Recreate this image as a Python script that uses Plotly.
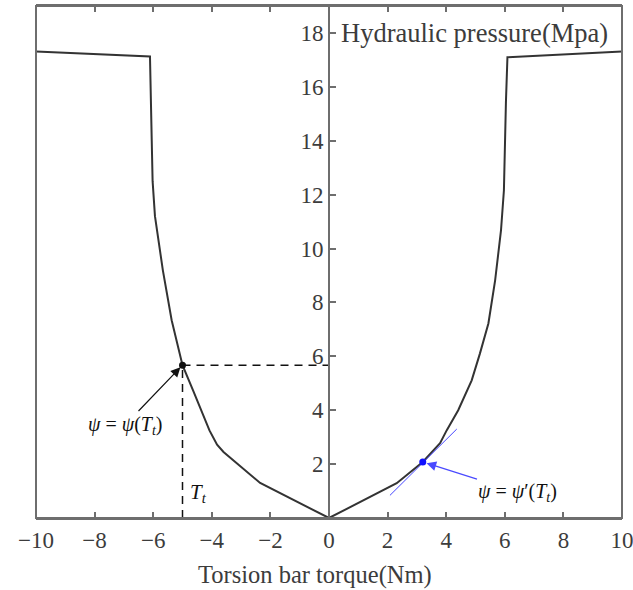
import plotly.graph_objects as go

# Hydraulic pressure vs torsion bar torque characteristic
torque = [-10.0, -6.11, -6.05, -6.02, -5.94, -5.67, -5.37, -5.0, -4.64, -4.31, -4.08, -3.82, -3.60,
          -3.44, -2.35, 0.0,
          2.31, 3.2, 3.79, 4.02, 4.41, 4.87, 5.15, 5.44, 5.67, 5.87, 5.97, 6.04, 6.09, 10.0]
pressure = [17.31, 17.13, 14.0, 12.5, 11.2, 9.19, 7.34, 5.67, 4.74, 3.88, 3.25, 2.72, 2.45,
            2.30, 1.30, 0.0,
            1.29, 2.08, 2.78, 3.26, 4.0, 5.11, 6.10, 7.22, 8.82, 10.67, 12.16, 15.49, 17.10, 17.31]

# Operating point psi(T_t)
t_point = -5.0
psi_point = 5.67

# Point where the slope psi'(T_t) is taken, and its tangent
slope_x = 3.2
slope_y = 2.08
tangent_x = [2.08, 4.36]
tangent_y = [0.84, 3.30]

x_ticks = [-10, -8, -6, -4, -2, 0, 2, 4, 6, 8, 10]
y_ticks = [2, 4, 6, 8, 10, 12, 14, 16, 18]

serif = "Liberation Serif"
axis_grey = "#6e6e6e"
text_grey = "#3c3c3c"

fig = go.Figure()

fig.add_trace(go.Scatter(x=torque, y=pressure, mode="lines",
                         line=dict(color="#333333", width=2), showlegend=False))

# dashed guides to the operating point
fig.add_trace(go.Scatter(x=[t_point, 0], y=[psi_point, psi_point], mode="lines",
                         line=dict(color="#111111", width=1.5, dash="8px,6px"), showlegend=False))
fig.add_trace(go.Scatter(x=[t_point, t_point], y=[0, psi_point], mode="lines",
                         line=dict(color="#111111", width=1.5, dash="8px,6px"), showlegend=False))

fig.add_trace(go.Scatter(x=tangent_x, y=tangent_y, mode="lines",
                         line=dict(color="#4646ff", width=1), showlegend=False))

fig.add_trace(go.Scatter(x=[t_point], y=[psi_point], mode="markers",
                         marker=dict(color="#111111", size=7), showlegend=False))
fig.add_trace(go.Scatter(x=[slope_x], y=[slope_y], mode="markers",
                         marker=dict(color="#1010ff", size=7), showlegend=False))

fig.update_layout(
    width=633, height=590,
    margin=dict(l=36, r=11, t=6, b=72, autoexpand=False),
    paper_bgcolor="white", plot_bgcolor="white",
    font=dict(family=serif, color=text_grey, size=22),
    xaxis=dict(range=[-10, 10], tickvals=x_ticks, ticks="inside", ticklen=6,
               tickcolor=axis_grey, tickwidth=1.5, showline=True, linecolor=axis_grey,
               linewidth=2, mirror="allticks", showgrid=False, zeroline=False,
               ticklabeloverflow="allow", automargin=False,
               tickfont=dict(family=serif, size=23, color=text_grey)),
    yaxis=dict(range=[0, 19], tickvals=y_ticks, ticks="inside", ticklen=6,
               tickcolor=axis_grey, tickwidth=1.5, showline=True, linecolor=axis_grey,
               linewidth=2, anchor="free", position=0.5, showgrid=False, zeroline=False,
               automargin=False,
               tickfont=dict(family=serif, size=23, color=text_grey)),
    shapes=[dict(type="rect", xref="paper", yref="paper", x0=0, x1=1, y0=0, y1=1,
                 line=dict(color=axis_grey, width=2), layer="above")],
)

fig.add_annotation(x=0.5, y=0, xref="paper", yref="paper", text="Torsion bar torque(Nm)",
                   showarrow=False, xanchor="center", yanchor="middle", xshift=-14, yshift=-57,
                   font=dict(family=serif, size=24.5, color=text_grey))

fig.add_annotation(x=0, y=18, xref="x", yref="y", text="Hydraulic pressure(Mpa)",
                   showarrow=False, xanchor="left", yanchor="middle", xshift=10,
                   font=dict(family=serif, size=26.5, color=text_grey))

fig.add_annotation(x=t_point, y=psi_point, ax=-6.96, ay=3.45, axref="x", ayref="y",
                   text="<i>ψ</i> = <i>ψ</i>(<i>T<sub>t</sub></i>)", showarrow=True,
                   arrowhead=2, arrowsize=1.6, arrowwidth=1.2, arrowcolor="#111111",
                   standoff=3, font=dict(family=serif, size=20, color="#111111"))

fig.add_annotation(x=slope_x, y=slope_y, ax=6.45, ay=0.96, axref="x", ayref="y",
                   text="<i>ψ</i> = <i>ψ</i>′(<i>T<sub>t</sub></i>)", showarrow=True,
                   arrowhead=2, arrowsize=1.6, arrowwidth=1.2, arrowcolor="#4a4aff",
                   standoff=4, font=dict(family=serif, size=20, color="#111111"))

fig.add_annotation(x=-4.47, y=0.93, xref="x", yref="y", text="<i>T<sub>t</sub></i>",
                   showarrow=False, font=dict(family=serif, size=21, color="#111111"))

fig.write_html("out.html")
